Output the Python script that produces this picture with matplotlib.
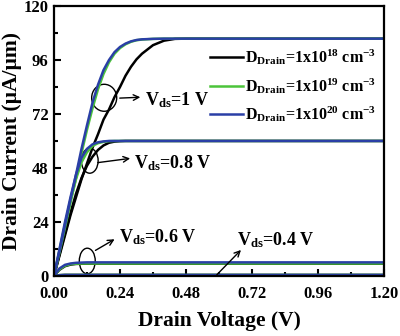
import numpy as np
import matplotlib
matplotlib.use("Agg")
import matplotlib.pyplot as plt
from matplotlib.patches import Ellipse
from matplotlib.ticker import MultipleLocator

plt.rcParams['font.family'] = ['Liberation Serif', 'DejaVu Serif']
plt.rcParams['font.weight'] = 'bold'
plt.rcParams['mathtext.fontset'] = 'custom'
plt.rcParams['mathtext.rm'] = 'Liberation Serif:bold'
plt.rcParams['mathtext.it'] = 'Liberation Serif:bold'
plt.rcParams['mathtext.bf'] = 'Liberation Serif:bold'

# drain voltage grid (V)
v = [0.00, 0.02, 0.04, 0.06, 0.08, 0.10, 0.12, 0.14, 0.16, 0.18, 0.20, 0.22,
     0.24, 0.26, 0.28, 0.30, 0.32, 0.36, 0.40, 0.44, 0.48, 0.60, 0.80, 1.00, 1.20]

# drain current (uA/um), Vds = 1 V
i_1v_18 = [0, 9, 18, 27, 35, 43, 50, 57, 63, 69.5, 74, 79.5,
           84, 89, 93, 96.3, 98.8, 102.6, 104.6, 105.4, 105.5, 105.5, 105.5, 105.5, 105.5]
i_1v_19 = [0, 10.5, 21.5, 32.5, 43.5, 54.5, 65, 74.5, 83, 89.8, 95, 98.8,
           101.3, 103, 104.1, 104.8, 105.1, 105.4, 105.5, 105.5, 105.5, 105.5, 105.5, 105.5, 105.5]
i_1v_20 = [0, 11, 22.5, 34, 45, 56.5, 67, 77, 85, 91.5, 96, 99.5,
           101.8, 103.3, 104.3, 104.9, 105.2, 105.4, 105.5, 105.5, 105.5, 105.5, 105.5, 105.5, 105.5]

# Vds = 0.8 V
i_08v_18 = [0, 9.5, 19, 28, 36.5, 43.5, 49, 53, 56, 58, 59.2, 59.7,
            59.9, 60, 60, 60, 60, 60, 60, 60, 60, 60, 60, 60, 60]
i_08v_19 = [0, 11.5, 23, 33.5, 43, 50.5, 55, 57.8, 59, 59.6, 59.9, 60,
            60, 60, 60, 60, 60, 60, 60, 60, 60, 60, 60, 60, 60]
i_08v_20 = [0, 12, 24, 35, 45, 52.5, 56.5, 58.5, 59.4, 59.8, 60, 60,
            60, 60, 60, 60, 60, 60, 60, 60, 60, 60, 60, 60, 60]

# Vds = 0.6 V
i_06v_18 = [0, 2.7, 4.3, 5.0, 5.3, 5.4, 5.4, 5.4, 5.4, 5.4, 5.4, 5.4,
            5.4, 5.4, 5.4, 5.4, 5.4, 5.4, 5.4, 5.4, 5.4, 5.4, 5.4, 5.4, 5.4]
i_06v_19 = [0, 2.9, 4.5, 5.2, 5.4, 5.5, 5.5, 5.5, 5.5, 5.5, 5.5, 5.5,
            5.5, 5.5, 5.5, 5.5, 5.5, 5.5, 5.5, 5.5, 5.5, 5.5, 5.5, 5.5, 5.5]
i_06v_20 = [0, 3.3, 4.9, 5.5, 5.8, 5.9, 6.0, 6.0, 6.0, 6.0, 6.0, 6.0,
            6.0, 6.0, 6.0, 6.0, 6.0, 6.0, 6.0, 6.0, 6.0, 6.0, 6.0, 6.0, 6.0]

# Vds = 0.4 V
i_04v_18 = [0, 0.3, 0.4, 0.4, 0.4, 0.4, 0.4, 0.4, 0.4, 0.4, 0.4, 0.4,
            0.4, 0.4, 0.4, 0.4, 0.4, 0.4, 0.4, 0.4, 0.4, 0.4, 0.4, 0.4, 0.4]
i_04v_19 = i_04v_18
i_04v_20 = i_04v_18

labels = [r'$\mathrm{D_{Drain}}$=1x10$^{\mathrm{18}}$ cm$^{\mathrm{-3}}$',
          r'$\mathrm{D_{Drain}}$=1x10$^{\mathrm{19}}$ cm$^{\mathrm{-3}}$',
          r'$\mathrm{D_{Drain}}$=1x10$^{\mathrm{20}}$ cm$^{\mathrm{-3}}$']
colors = ['black', '#4cc43a', '#2a3fa6']

series = [[i_1v_18, i_08v_18, i_06v_18, i_04v_18],
          [i_1v_19, i_08v_19, i_06v_19, i_04v_19],
          [i_1v_20, i_08v_20, i_06v_20, i_04v_20]]

fig = plt.figure(figsize=(4.0, 3.36), dpi=100)
ax = fig.add_axes([0.135, 0.179, 0.825, 0.803])

for k in range(3):
    for j, cur in enumerate(series[k]):
        ax.plot(v, cur, color=colors[k], lw=1.8,
                label=labels[k] if j == 0 else None)

# ellipses marking each group of curves
ax.add_patch(Ellipse((0.1825, 79.2), 0.091, 12, fill=False, lw=1.0, color='black'))
ax.add_patch(Ellipse((0.13, 51.2), 0.061, 11.1, fill=False, lw=1.0, color='black'))
ax.add_patch(Ellipse((0.121, 6.6), 0.058, 11.4, fill=False, lw=1.0, color='black'))

arr = dict(arrowstyle='->', color='black', lw=1.0)
ax.annotate('', xy=(0.324, 79.5), xytext=(0.229, 79), arrowprops=arr)
ax.annotate('', xy=(0.287, 52.4), xytext=(0.149, 50.2), arrowprops=arr)
ax.annotate('', xy=(0.229, 16.9), xytext=(0.142, 10.7), arrowprops=arr)
ax.annotate('', xy=(0.687, 12.4), xytext=(0.585, -0.4), arrowprops=arr,
            annotation_clip=False)

tk = dict(fontsize=13, fontweight='bold', va='center', ha='left')
ax.text(0.331, 78, r'$\mathrm{V_{ds}}$=1 V', **tk)
ax.text(0.29, 50, r'$\mathrm{V_{ds}}$=0.8 V', **tk)
ax.text(0.235, 17, r'$\mathrm{V_{ds}}$=0.6 V', **tk)
ax.text(0.665, 16, r'$\mathrm{V_{ds}}$=0.4 V', **tk)

ax.set_xlim(0, 1.2)
ax.set_ylim(0, 120)
ax.xaxis.set_major_locator(MultipleLocator(0.24))
ax.xaxis.set_minor_locator(MultipleLocator(0.12))
ax.yaxis.set_major_locator(MultipleLocator(24))
ax.yaxis.set_minor_locator(MultipleLocator(12))
ax.xaxis.set_major_formatter(plt.FormatStrFormatter('%.2f'))
ax.tick_params(which='both', direction='in', top=False, right=False, width=1.5)
ax.tick_params(which='major', length=5, labelsize=12)
ax.tick_params(axis='x', which='major', pad=7.5)
ax.tick_params(axis='y', which='major', pad=4)
ax.tick_params(which='minor', length=3)
for s in ax.spines.values():
    s.set_linewidth(1.6)

ax.set_xlabel('Drain Voltage (V)', fontsize=15.5, fontweight='bold', labelpad=6.5)
ax.set_ylabel(u'Drain Current (\u00b5A/\u00b5m)', fontsize=15.5, fontweight='bold', labelpad=1)

ax.legend(loc='upper right', bbox_to_anchor=(1.0, 0.875), frameon=False,
          fontsize=11.5, handlelength=2.05, handletextpad=0.12, labelspacing=0.55,
          borderaxespad=0.1)

fig.savefig('out.png', dpi=100)
